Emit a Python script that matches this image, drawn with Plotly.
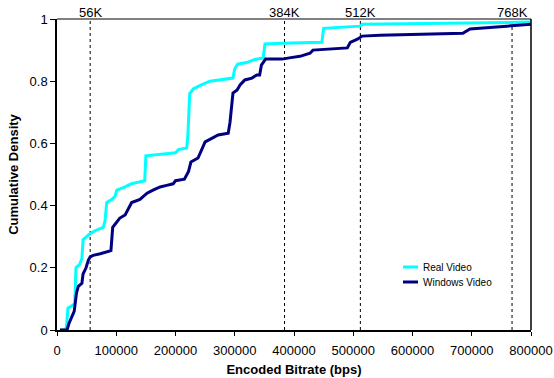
import plotly.graph_objects as go

# Encoded bitrate (bps) and cumulative density for each player
real_bitrate = [5000, 13500, 16000, 18500, 27000, 30000, 32000, 38000, 42000, 44000, 50000,
                56000, 65000, 78000, 81000, 84000, 93000, 98000, 101000, 115000, 125000,
                135000, 148000, 150000, 180000, 200000, 205000, 219000, 221000, 224000,
                230000, 240000, 258000, 280000, 297000, 300000, 305000, 320000, 334000,
                348000, 351000, 380000, 447000, 450000, 480000, 511000, 515000, 600000,
                700000, 800000]
real_cdf = [0, 0, 0.01, 0.07, 0.08, 0.085, 0.20, 0.21, 0.23, 0.29, 0.30,
            0.31, 0.32, 0.33, 0.35, 0.41, 0.42, 0.43, 0.45, 0.46, 0.47,
            0.475, 0.48, 0.56, 0.565, 0.57, 0.58, 0.585, 0.63, 0.76,
            0.775, 0.785, 0.80, 0.805, 0.81, 0.84, 0.855, 0.86, 0.87,
            0.875, 0.92, 0.922, 0.925, 0.97, 0.973, 0.977, 0.983, 0.985,
            0.988, 0.99]

win_bitrate = [5000, 17000, 20000, 25000, 29000, 33000, 36000, 42000, 44000, 49000, 53000,
               56000, 61000, 73000, 84000, 91000, 94000, 101000, 106000, 115000, 120000,
               126000, 140000, 152000, 162000, 174000, 185000, 196000, 200000, 215000,
               222000, 226000, 238000, 245000, 250000, 262000, 272000, 289000, 292000,
               297000, 304000, 309000, 317000, 329000, 337000, 342000, 345000, 352000,
               380000, 392000, 410000, 427000, 432000, 490000, 495000, 507000, 515000,
               545000, 600000, 685000, 697000, 765000, 800000]
win_cdf = [0, 0, 0.02, 0.04, 0.06, 0.12, 0.14, 0.15, 0.18, 0.20, 0.225,
           0.235, 0.24, 0.245, 0.25, 0.255, 0.33, 0.35, 0.36, 0.37, 0.39,
           0.41, 0.42, 0.44, 0.45, 0.46, 0.465, 0.47, 0.48, 0.485,
           0.51, 0.54, 0.553, 0.585, 0.605, 0.617, 0.627, 0.633, 0.668,
           0.762, 0.772, 0.788, 0.804, 0.81, 0.82, 0.82, 0.852, 0.871,
           0.871, 0.875, 0.88, 0.89, 0.90, 0.907, 0.925, 0.935, 0.945,
           0.948, 0.95, 0.954, 0.968, 0.977, 0.983]

series_names = ["Real Video", "Windows Video"]
series_colors = ["#00FFFF", "#000080"]

# Reference bitrates marked with dashed lines
ref_rates = [56000, 384000, 512000, 768000]
ref_labels = ["56K", "384K", "512K", "768K"]

x_ticks = [0, 100000, 200000, 300000, 400000, 500000, 600000, 700000, 800000]
y_ticks = [0, 0.2, 0.4, 0.6, 0.8, 1]
y_tick_text = ["0", "0.2", "0.4", "0.6", "0.8", "1"]

FONT = "Liberation Sans, Arial, sans-serif"

fig = go.Figure()
for xs, ys, name, color in zip([real_bitrate, win_bitrate], [real_cdf, win_cdf],
                               series_names, series_colors):
    fig.add_trace(go.Scatter(x=xs, y=ys, mode="lines", name=name,
                             line=dict(color=color, width=3), showlegend=False))

shapes = []
annotations = []
for r, lab in zip(ref_rates, ref_labels):
    shapes.append(dict(type="line", xref="x", yref="paper", x0=r, x1=r, y0=0, y1=1,
                       line=dict(color="#000000", width=1, dash="3px,3px"), layer="below"))
    annotations.append(dict(x=r, y=1, xref="x", yref="paper", text=lab, showarrow=False,
                            yanchor="bottom", xanchor="center", yshift=-3,
                            font=dict(size=13, color="#000000", family=FONT)))

# frame: grey top edge, black right edge
shapes.append(dict(type="line", xref="paper", yref="paper", x0=0, x1=1, y0=1, y1=1,
                   line=dict(color="#808080", width=2)))
shapes.append(dict(type="line", xref="paper", yref="paper", x0=1, x1=1, y0=0, y1=1,
                   line=dict(color="#000000", width=1.5)))

# legend: short line samples with labels
plot_w, plot_h = 474, 311
leg_x0 = (403 - 57) / plot_w
leg_x1 = (418 - 57) / plot_w
leg_tx = (421 - 57) / plot_w
for i, (name, color) in enumerate(zip(series_names, series_colors)):
    yy = (330 - (267 + 15 * i)) / plot_h
    shapes.append(dict(type="line", xref="paper", yref="paper", x0=leg_x0, x1=leg_x1,
                       y0=yy, y1=yy, line=dict(color=color, width=3)))
    annotations.append(dict(x=leg_tx, y=yy, xref="paper", yref="paper", text=name,
                            showarrow=False, xanchor="left", yanchor="middle",
                            font=dict(size=10, color="#000000", family=FONT)))

fig.update_layout(
    width=554, height=378,
    margin=dict(l=57, r=23, t=19, b=48, autoexpand=False),
    paper_bgcolor="white", plot_bgcolor="white",
    font=dict(family=FONT, size=13, color="#000000"),
    shapes=shapes, annotations=annotations,
    showlegend=False,
    xaxis=dict(range=[0, 800000], tickvals=x_ticks, tickformat="d", automargin=False,
               showgrid=False, zeroline=False, showline=True, linecolor="#000000",
               linewidth=1.5, ticks="outside", ticklen=4, tickcolor="#000000",
               ticklabelstandoff=4,
               tickfont=dict(size=13, family=FONT),
               title=dict(text="<b>Encoded Bitrate (bps)</b>", standoff=8,
                          font=dict(size=13, family=FONT))),
    yaxis=dict(range=[0, 1], tickvals=y_ticks, ticktext=y_tick_text, automargin=False,
               showgrid=False, zeroline=False, showline=True, linecolor="#000000",
               linewidth=1.5, ticks="outside", ticklen=5, tickcolor="#000000",
               tickfont=dict(size=13, family=FONT),
               title=dict(text="<b>Cumulative Density</b>", standoff=8,
                          font=dict(size=13, family=FONT))),
)

fig.write_html("out.html")
